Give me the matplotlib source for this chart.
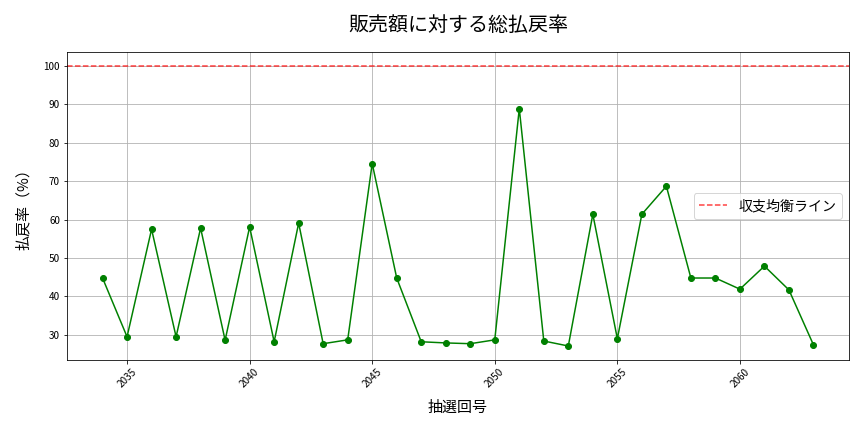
import matplotlib
matplotlib.use("Agg")
import matplotlib.pyplot as plt

plt.rcParams['font.family'] = ['Noto Sans CJK JP', 'DejaVu Sans']

draws = list(range(2034, 2064))
payout_rate = [44.8, 29.5, 57.5, 29.5, 57.8, 28.6, 58.1, 28.2, 59.1, 27.7,
               28.7, 74.6, 44.8, 28.2, 27.9, 27.7, 28.7, 88.9, 28.4, 27.1,
               61.4, 29.0, 61.4, 68.7, 44.8, 44.8, 41.9, 47.9, 41.7, 27.4]
breakeven = 100
title = "販売額に対する総払戻率"
xlabel = "抽選回号"
ylabel = "払戻率（%）"
legend_label = "収支均衡ライン"

fig = plt.figure(figsize=(12, 6), dpi=72)
ax = fig.add_subplot(111)
fig.subplots_adjust(left=67/864, right=849/864, top=1-52/432, bottom=1-360/432)

ax.plot(draws, payout_rate, color='green', marker='o', markersize=6, linewidth=1.5)
ax.axhline(breakeven, color='red', linestyle='--', alpha=0.75, linewidth=1.5, label=legend_label)

ax.set_title(title, fontsize=20, pad=21)
ax.set_xlabel(xlabel, fontsize=15, labelpad=11)
ax.set_ylabel(ylabel, fontsize=15, labelpad=13)
ax.tick_params(axis='both', labelsize=10)
plt.setp(ax.get_xticklabels(), rotation=45)
ax.grid(True, color='#b0b0b0', linewidth=0.8)
ax.legend(loc='center right', fontsize=14)

fig.savefig("out.png", dpi=72)
